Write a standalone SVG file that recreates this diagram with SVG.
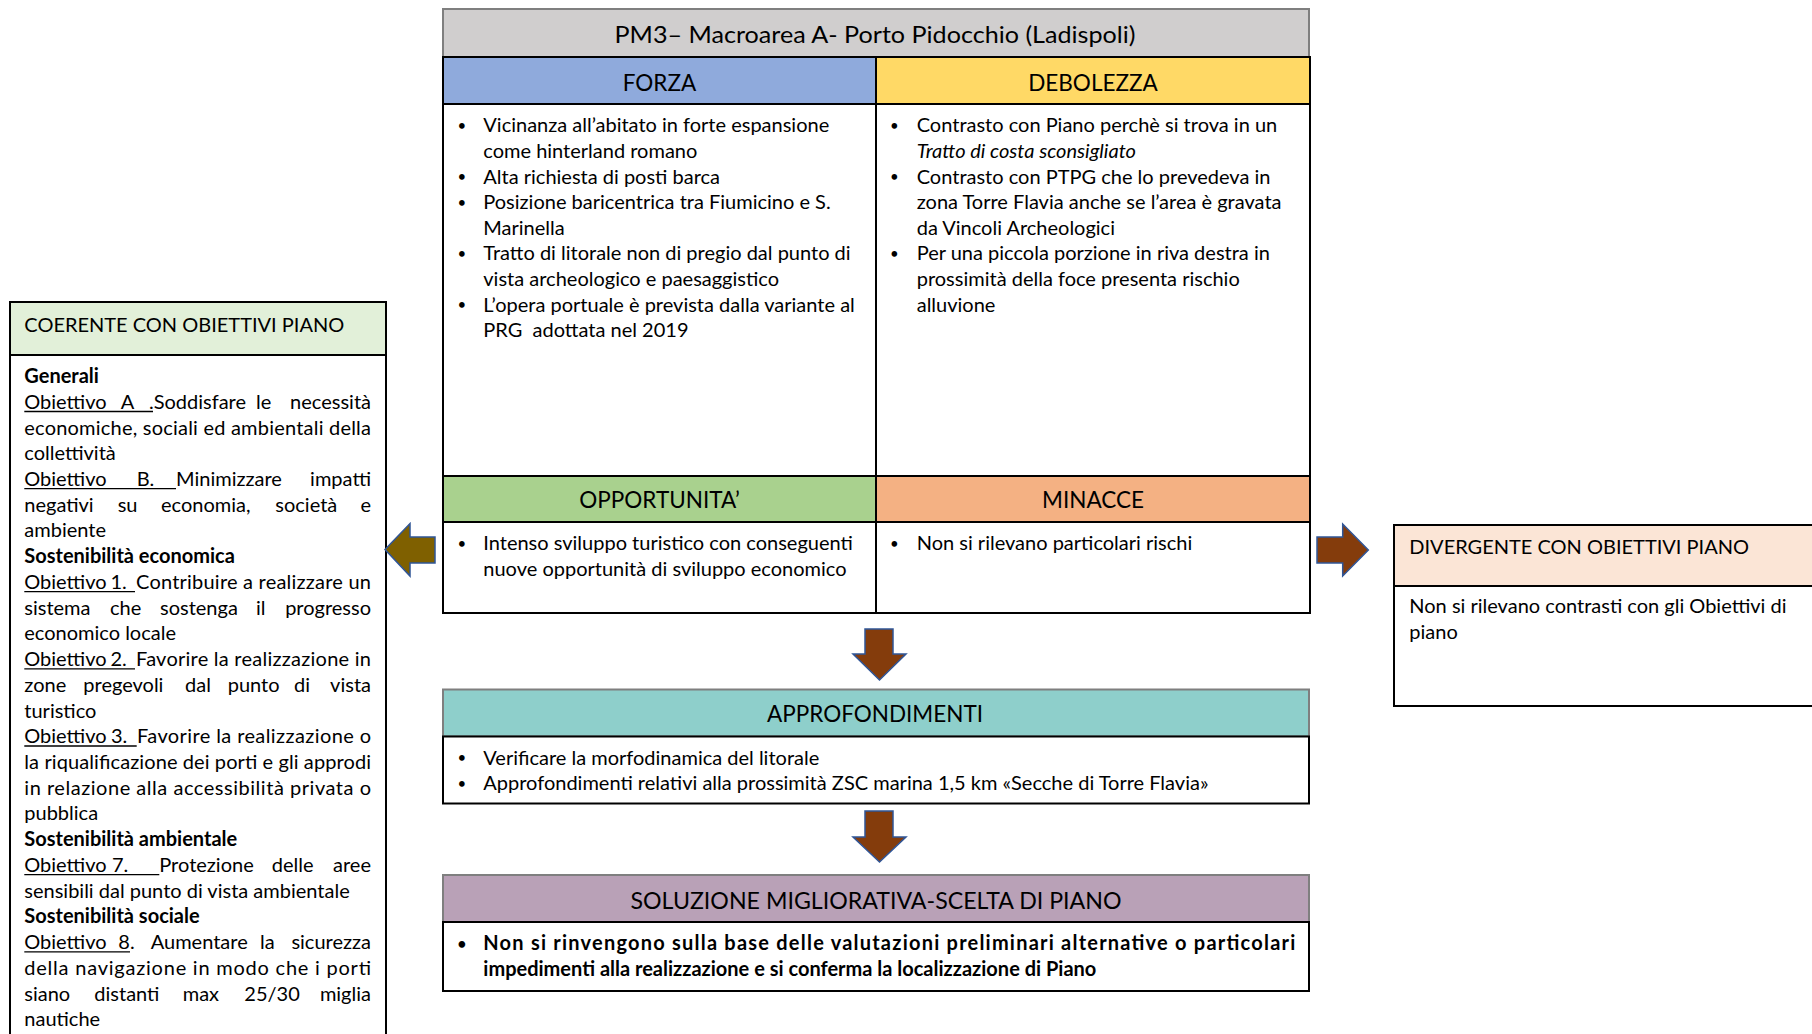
<svg xmlns="http://www.w3.org/2000/svg" width="1812" height="1034" viewBox="0 0 1812 1034">
<style>
text{font-family:Lato,"Liberation Sans",sans-serif;fill:#000}
.b{font-size:20px}
.bb{font-size:20px;font-weight:bold}
.dot{font-size:15px}
.h{font-size:20px}
.hc{font-size:22.5px;text-anchor:middle}
.e{text-anchor:end}
.box{stroke:#000;stroke-width:2}
.gb{stroke:#7F7F7F;stroke-width:2}
.ul{stroke:#000;stroke-width:1.3}
.arr{stroke:#2F5597;stroke-width:1.5}
</style>
<rect width="1812" height="1034" fill="#fff"/>

<g id="title">
<rect x="443" y="9" width="866" height="48" fill="#D0CECE" class="gb"/>
<text class="hc" x="875" y="42.5" textLength="521" lengthAdjust="spacingAndGlyphs">PM3– Macroarea A- Porto Pidocchio (Ladispoli)</text>
</g>

<g id="forza">
<rect x="443" y="57" width="433" height="47" fill="#8FAADC" class="box"/>
<rect x="443" y="104" width="433" height="372" fill="#fff" class="box"/>
<text class="hc" x="659.5" y="90.5">FORZA</text>
<text class="dot" x="457.5" y="131">•</text>
<text class="b" x="483.3" y="132.3">Vicinanza all’abitato in forte espansione</text>
<text class="b" x="483.3" y="157.9">come hinterland romano</text>
<text class="dot" x="457.5" y="182.2">•</text>
<text class="b" x="483.3" y="183.5">Alta richiesta di posti barca</text>
<text class="dot" x="457.5" y="207.8">•</text>
<text class="b" x="483.3" y="209.1">Posizione baricentrica tra Fiumicino e S.</text>
<text class="b" x="483.3" y="234.7">Marinella</text>
<text class="dot" x="457.5" y="259">•</text>
<text class="b" x="483.3" y="260.3">Tratto di litorale non di pregio dal punto di</text>
<text class="b" x="483.3" y="285.9">vista archeologico e paesaggistico</text>
<text class="dot" x="457.5" y="310.2">•</text>
<text class="b" x="483.3" y="311.5">L’opera portuale è prevista dalla variante al</text>
<text class="b" x="483.3" y="337.1">PRG&#160; adottata nel 2019</text>
</g>

<g id="debolezza">
<rect x="876" y="57" width="434" height="47" fill="#FFD966" class="box"/>
<rect x="876" y="104" width="434" height="372" fill="#fff" class="box"/>
<text class="hc" x="1093" y="90.5">DEBOLEZZA</text>
<text class="dot" x="890" y="131">•</text>
<text class="b" x="916.7" y="132.3">Contrasto con Piano perchè si trova in un</text>
<text class="b" x="916.7" y="157.9" font-style="italic">Tratto di costa sconsigliato</text>
<text class="dot" x="890" y="182.2">•</text>
<text class="b" x="916.7" y="183.5">Contrasto con PTPG che lo prevedeva in</text>
<text class="b" x="916.7" y="209.1">zona Torre Flavia anche se l’area è gravata</text>
<text class="b" x="916.7" y="234.7">da Vincoli Archeologici</text>
<text class="dot" x="890" y="259">•</text>
<text class="b" x="916.7" y="260.3">Per una piccola porzione in riva destra in</text>
<text class="b" x="916.7" y="285.9">prossimità della foce presenta rischio</text>
<text class="b" x="916.7" y="311.5">alluvione</text>
</g>

<g id="opportunita">
<rect x="443" y="476" width="433" height="46" fill="#A9D18E" class="box"/>
<rect x="443" y="522" width="433" height="91" fill="#fff" class="box"/>
<text class="hc" x="659.5" y="508">OPPORTUNITA’</text>
<text class="dot" x="457.5" y="548.7">•</text>
<text class="b" x="483.3" y="550">Intenso sviluppo turistico con conseguenti</text>
<text class="b" x="483.3" y="575.6">nuove opportunità di sviluppo economico</text>
</g>

<g id="minacce">
<rect x="876" y="476" width="434" height="46" fill="#F4B183" class="box"/>
<rect x="876" y="522" width="434" height="91" fill="#fff" class="box"/>
<text class="hc" x="1093" y="508">MINACCE</text>
<text class="dot" x="890" y="548.7">•</text>
<text class="b" x="916.7" y="550">Non si rilevano particolari rischi</text>
</g>

<g id="approfondimenti">
<rect x="443" y="689.5" width="866" height="47" fill="#8ECFCB" class="gb"/>
<rect x="443" y="736.5" width="866" height="67" fill="#fff" class="box"/>
<text class="hc" x="875" y="721.5">APPROFONDIMENTI</text>
<text class="dot" x="457.5" y="763.2">•</text>
<text class="b" x="483.3" y="764.5">Verificare la morfodinamica del litorale</text>
<text class="dot" x="457.5" y="788.8">•</text>
<text class="b" x="483.3" y="790.1">Approfondimenti relativi alla prossimità ZSC marina 1,5 km «Secche di Torre Flavia»</text>
</g>

<g id="soluzione">
<rect x="443" y="875" width="866" height="47" fill="#B9A1B7" class="gb"/>
<rect x="443" y="922" width="866" height="69" fill="#fff" class="box"/>
<text class="hc" x="876" y="909" textLength="491" lengthAdjust="spacingAndGlyphs">SOLUZIONE MIGLIORATIVA-SCELTA DI PIANO</text>
<text class="dot" x="457.5" y="948.7" font-weight="bold">•</text>
<text class="bb" x="483.3" y="950" textLength="812" lengthAdjust="spacing">Non si rinvengono sulla base delle valutazioni preliminari alternative o particolari</text>
<text class="bb" x="483.3" y="975.6">impedimenti alla realizzazione e si conferma la localizzazione di Piano</text>
</g>

<g id="coerente">
<rect x="10" y="302" width="376" height="53" fill="#E2F0D9" class="box"/>
<rect x="10" y="355" width="376" height="700" fill="#fff" class="box"/>
<text class="h" x="24.3" y="331.7">COERENTE CON OBIETTIVI PIANO</text>
<text class="bb" x="24.3" y="383">Generali</text>
<text class="b" y="408.7"><tspan x="24.3">Obiettivo</tspan><tspan x="120.7">A</tspan><tspan x="149">.Soddisfare</tspan><tspan x="256">le</tspan></text>
<text class="b e" x="371" y="408.7">necessità</text>
<text class="b" x="24.3" y="434.5" textLength="346.7" lengthAdjust="spacing">economiche, sociali ed ambientali della</text>
<text class="b" x="24.3" y="460.2">collettività</text>
<text class="b" y="485.9"><tspan x="24.3">Obiettivo</tspan><tspan x="136.7">B.</tspan><tspan x="176">Minimizzare</tspan></text>
<text class="b e" x="371" y="485.9">impatti</text>
<text class="b" y="511.7"><tspan x="24.3">negativi</tspan><tspan x="117.7">su</tspan><tspan x="161">economia,</tspan><tspan x="275.3">società</tspan></text>
<text class="b e" x="371" y="511.7">e</text>
<text class="b" x="24.3" y="537.4">ambiente</text>
<text class="bb" x="24.3" y="563.1">Sostenibilità economica</text>
<text class="b" y="588.8"><tspan x="24.3">Obiettivo</tspan><tspan x="110.5">1.</tspan></text>
<text class="b" x="136" y="588.8" textLength="235" lengthAdjust="spacing">Contribuire a realizzare un</text>
<text class="b" y="614.6"><tspan x="24.3">sistema</tspan><tspan x="110">che</tspan><tspan x="160">sostenga</tspan><tspan x="256">il</tspan></text>
<text class="b e" x="371" y="614.6">progresso</text>
<text class="b" x="24.3" y="640.3">economico locale</text>
<text class="b" y="666"><tspan x="24.3">Obiettivo</tspan><tspan x="110.5">2.</tspan></text>
<text class="b" x="136" y="666" textLength="235" lengthAdjust="spacing">Favorire la realizzazione in</text>
<text class="b" y="691.8"><tspan x="24.3">zone</tspan><tspan x="83.3">pregevoli</tspan><tspan x="185">dal</tspan><tspan x="227.7">punto</tspan><tspan x="294">di</tspan></text>
<text class="b e" x="371" y="691.8">vista</text>
<text class="b" x="24.3" y="717.5">turistico</text>
<text class="b" y="743.2"><tspan x="24.3">Obiettivo</tspan><tspan x="111">3.</tspan></text>
<text class="b" x="137" y="743.2" textLength="234" lengthAdjust="spacing">Favorire la realizzazione o</text>
<text class="b" x="24.3" y="769" textLength="346.7" lengthAdjust="spacing">la riqualificazione dei porti e gli approdi</text>
<text class="b" x="24.3" y="794.7" textLength="346.7" lengthAdjust="spacing">in relazione alla accessibilità privata o</text>
<text class="b" x="24.3" y="820.4">pubblica</text>
<text class="bb" x="24.3" y="846.1">Sostenibilità ambientale</text>
<text class="b" y="871.9"><tspan x="24.3">Obiettivo</tspan><tspan x="112">7.</tspan><tspan x="159.3">Protezione</tspan><tspan x="271.7">delle</tspan></text>
<text class="b e" x="371" y="871.9">aree</text>
<text class="b" x="24.3" y="897.6">sensibili dal punto di vista ambientale</text>
<text class="bb" x="24.3" y="923.3">Sostenibilità sociale</text>
<text class="b" y="949"><tspan x="24.3">Obiettivo</tspan><tspan x="118.3">8.</tspan><tspan x="150.7">Aumentare</tspan><tspan x="260">la</tspan></text>
<text class="b e" x="371" y="949">sicurezza</text>
<text class="b" x="24.3" y="974.8" textLength="346.7" lengthAdjust="spacing">della navigazione in modo che i porti</text>
<text class="b" y="1000.5"><tspan x="24.3">siano</tspan><tspan x="94.3">distanti</tspan><tspan x="182.7">max</tspan><tspan x="244.3">25/30</tspan></text>
<text class="b e" x="371" y="1000.5">miglia</text>
<text class="b" x="24.3" y="1026.2">nautiche</text>
<line class="ul" x1="24.3" y1="411.5" x2="153" y2="411.5"/>
<line class="ul" x1="24.3" y1="488.7" x2="176" y2="488.7"/>
<line class="ul" x1="24.3" y1="591.6" x2="135" y2="591.6"/>
<line class="ul" x1="24.3" y1="668.8" x2="135" y2="668.8"/>
<line class="ul" x1="24.3" y1="746" x2="136.7" y2="746"/>
<line class="ul" x1="24.3" y1="874.7" x2="159.3" y2="874.7"/>
<line class="ul" x1="24.3" y1="951.8" x2="130" y2="951.8"/>
</g>

<g id="divergente">
<rect x="1394" y="525" width="430" height="61" fill="#FBE5D6" class="box"/>
<rect x="1394" y="586" width="430" height="120" fill="#fff" class="box"/>
<text class="h" x="1409.3" y="554">DIVERGENTE CON OBIETTIVI PIANO</text>
<text class="b" x="1409.3" y="613.3">Non si rilevano contrasti con gli Obiettivi di</text>
<text class="b" x="1409.3" y="638.9">piano</text>
</g>

<g id="connectors">
<path class="arr" fill="#7F6000" d="M385,549.5 L410,523.5 L410,537 L435,537 L435,563 L410,563 L410,576 Z"/>
<path class="arr" fill="#843C0C" d="M1317,537 L1342.7,537 L1342.7,524 L1368.3,550 L1342.7,576 L1342.7,563 L1317,563 Z"/>
<path class="arr" fill="#843C0C" d="M865,629 L893,629 L893,654 L906,654 L879.5,680 L853,654 L865,654 Z"/>
<path class="arr" fill="#843C0C" d="M865,811 L893,811 L893,837 L906,837 L879.5,862 L853,837 L865,837 Z"/>
</g>
</svg>
